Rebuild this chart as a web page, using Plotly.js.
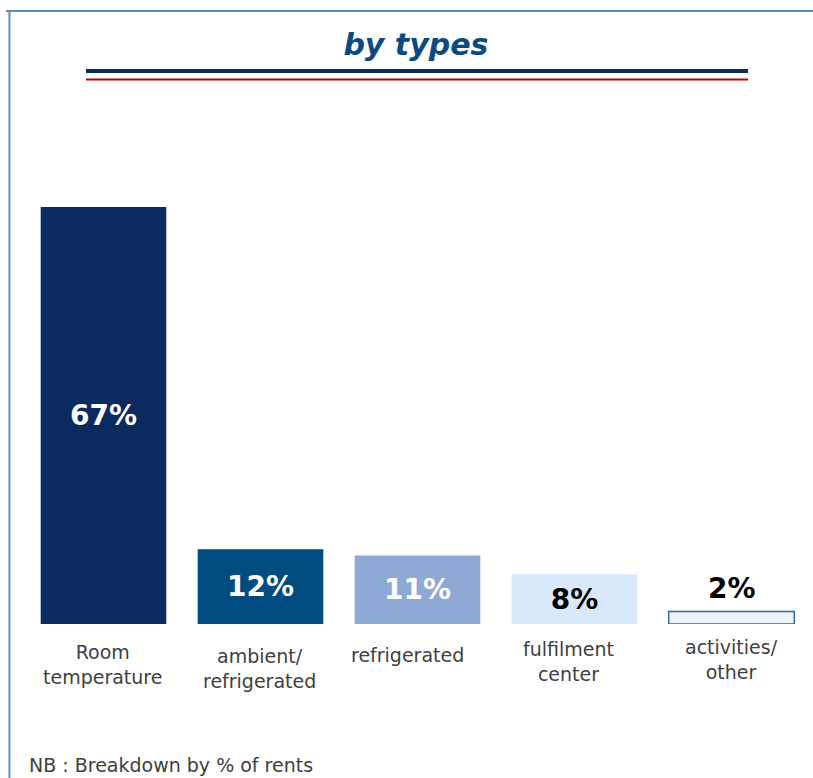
<!DOCTYPE html>
<html>
<head>
<meta charset="utf-8">
<script src="https://cdn.plot.ly/plotly-3.0.1.min.js"></script>
<style>
  html, body { margin: 0; padding: 0; background: #ffffff; }
  #chart { width: 813px; height: 778px; }
</style>
</head>
<body>
<div id="chart"></div>
<script>
// ---- data ----
var categories = ["Room temperature", "ambient/ refrigerated", "refrigerated", "fulfilment center", "activities/ other"];
var tickLabels = ["Room<br>temperature", "ambient/<br>refrigerated", "refrigerated", "fulfilment<br>center", "activities/<br>other"];
var values = [67, 12, 11, 8, 2];
var valueLabels = ["67%", "12%", "11%", "8%", "2%"];

// ---- styles ----
var barColors = ["#0B2B5F", "#004B80", "#8EA9D4", "#DAE8FB", "#EEF3FA"];
var barLineColors = ["#0B2B5F", "#004B80", "#8EA9D4", "#DAE8FB", "#2F6AA0"];
var barLineWidths = [0, 0, 0, 0, 1.5];
var textColors = ["#ffffff", "#ffffff", "#ffffff", "#000000", "#000000"];
var textPositions = ["inside", "inside", "inside", "inside", "none"];
var labelY = [-0.0823, -0.0884, -0.0622, -0.0753, -0.0713];
var labelXShift = [-1, -1, -10, -6, 0];

var trace = {
  type: "bar",
  x: categories,
  y: values,
  text: valueLabels,
  textposition: textPositions,
  insidetextanchor: "middle",
  textfont: { family: "DejaVu Sans", size: 28, color: textColors, weight: "bold" },
  constraintext: "none",
  marker: { color: barColors, line: { color: barLineColors, width: barLineWidths } },
  hoverinfo: "none",
  cliponaxis: false
};

var annotations = [];
for (var i = 0; i < categories.length; i++) {
  annotations.push({
    x: categories[i], xref: "x",
    y: labelY[i], yref: "paper",
    text: tickLabels[i],
    showarrow: false,
    xanchor: "center", yanchor: "middle",
    xshift: labelXShift[i],
    font: { family: "DejaVu Sans", size: 19, color: "#404040" }
  });
  if (textPositions[i] === "none") {
    annotations.push({
      x: categories[i], xref: "x",
      y: values[i], yref: "y",
      text: "<b>" + valueLabels[i] + "</b>",
      showarrow: false,
      xanchor: "center", yanchor: "middle",
      yshift: 23.5,
      font: { family: "DejaVu Sans", size: 28, color: textColors[i] }
    });
  }
}
annotations.push({
  x: 0.0025, xref: "paper", y: -0.2831, yref: "paper",
  text: "NB : Breakdown by % of rents",
  showarrow: false, xanchor: "left", yanchor: "middle",
  font: { family: "DejaVu Sans", size: 19, color: "#404040" }
});

var layout = {
  width: 813,
  height: 778,
  margin: { l: 25, r: 3, t: 126, b: 154 },
  paper_bgcolor: "#ffffff",
  plot_bgcolor: "#ffffff",
  showlegend: false,
  bargap: 0.2,
  title: {
    text: "<b><i>by types</i></b>",
    font: { family: "DejaVu Sans", size: 30, color: "#0A4A80" },
    xref: "paper", x: 0.498, xanchor: "center",
    yref: "container", y: 1 - 44 / 778, yanchor: "middle"
  },
  xaxis: {
    showticklabels: false, showgrid: false, zeroline: false, showline: false,
    ticks: "", range: [-0.5, 4.5], fixedrange: true
  },
  yaxis: {
    visible: false, range: [0, 80], showgrid: false, zeroline: false, fixedrange: true
  },
  annotations: annotations,
  shapes: [
    { type: "line", xref: "paper", yref: "paper", x0: 0.0777, x1: 0.921, y0: 1.1104, y1: 1.1104,
      line: { color: "#0B2B5F", width: 4 } },
    { type: "line", xref: "paper", yref: "paper", x0: 0.0777, x1: 0.921, y0: 1.0934, y1: 1.0934,
      line: { color: "#C00000", width: 2 } },
    { type: "line", xref: "paper", yref: "paper", x0: -0.0242, x1: 1.01, y0: 1.2309, y1: 1.2309,
      line: { color: "#5E8FBC", width: 2 } },
    { type: "line", xref: "paper", yref: "paper", x0: -0.0198, x1: -0.0198, y0: 1.2309, y1: -0.32,
      line: { color: "#5E8FBC", width: 2 } }
  ]
};

Plotly.newPlot("chart", [trace], layout, { displayModeBar: false, staticPlot: true });
</script>
</body>
</html>
